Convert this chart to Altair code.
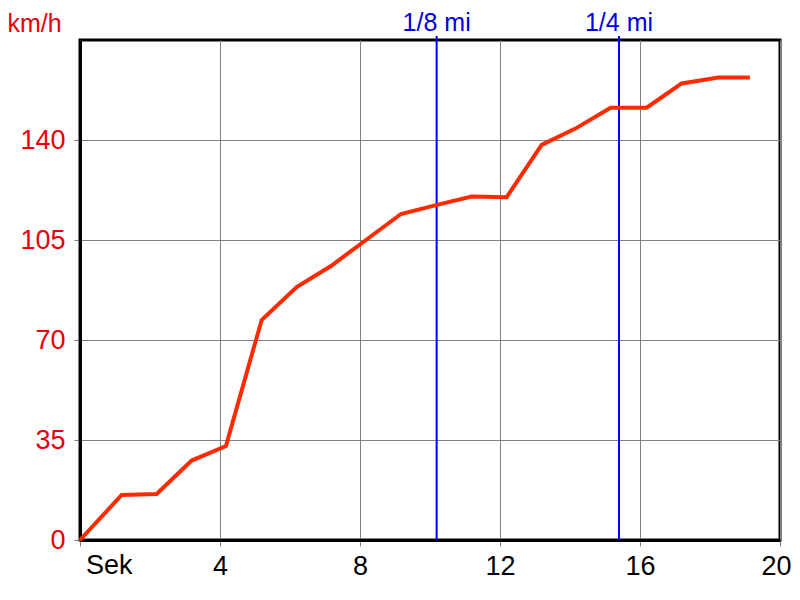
import altair as alt
import pandas as pd

times = [0, 1.19, 2.19, 3.19, 4.17, 5.19, 6.19, 7.17, 8.17, 9.17, 10.2, 11.19,
         12.19, 13.19, 14.14, 15.16, 16.19, 17.19, 18.24, 19.14]
speeds = [0, 15.75, 16.1, 27.8, 32.9, 77, 88.5, 95.9, 105, 114.1, 117.3, 120.2,
          120, 138.3, 143.9, 151.3, 151.3, 159.8, 161.9, 161.9]

marker_times = [10.19, 15.4]
marker_labels = ["1/8 mi", "1/4 mi"]

x_ticks = [0, 4, 8, 12, 16, 20]
y_ticks = [0, 35, 70, 105, 140]

df = pd.DataFrame({"t": times, "v": speeds})
mk = pd.DataFrame({"t": marker_times, "label": marker_labels})
sek = pd.DataFrame({"t": [0], "label": ["Sek"]})

FONT = "Liberation Sans"
FS = 27
TFS = 25

xscale = alt.Scale(domain=[0, 20], nice=False, zero=False)
yscale = alt.Scale(domain=[0, 175], nice=False)

xaxis = alt.Axis(values=x_ticks, grid=True, gridColor="#808080", gridWidth=1,
                 tickColor="#808080", tickSize=6, tickWidth=1,
                 domainColor="black", domainWidth=3,
                 labelFont=FONT, labelFontSize=FS, labelColor="black",
                 labelBaseline="alphabetic", labelPadding=28,
                 labelExpr="datum.value == 0 ? '' : datum.label",
                 labelOffset={"condition": {"test": "datum.value == 20", "value": -4}, "value": 0},
                 labelFlush=False, labelOverlap=False, title=None)
yaxis = alt.Axis(values=y_ticks, grid=True, gridColor="#808080", gridWidth=1,
                 tickColor="#808080", tickSize=6, tickWidth=1,
                 domainColor="black", domainWidth=3,
                 labelFont=FONT, labelFontSize=FS, labelColor="#e8000b",
                 labelBaseline="middle", labelAlign="right", labelPadding=9,
                 labelFlush=False,
                 title="km/h", titleAngle=0, titleFont=FONT, titleFontSize=TFS,
                 titleFontWeight="normal", titleColor="#e8000b",
                 titleAlign="left", titleBaseline="alphabetic",
                 titleX=-73, titleY=-9)

line = alt.Chart(df).mark_line(color="#ff2a00", strokeWidth=4, clip=False).encode(
    x=alt.X("t:Q", scale=xscale, axis=xaxis),
    y=alt.Y("v:Q", scale=yscale, axis=yaxis),
)

rules = alt.Chart(mk).mark_rule(color="#0000ff", strokeWidth=2).encode(
    x=alt.X("t:Q", scale=xscale),
    y=alt.value(-4),
    y2=alt.value(500),
)

mtext = alt.Chart(mk).mark_text(font=FONT, fontSize=TFS, color="#0000dd",
                                align="center", baseline="alphabetic").encode(
    x=alt.X("t:Q", scale=xscale),
    y=alt.value(-9),
    text="label:N",
)

sektext = alt.Chart(sek).mark_text(font=FONT, fontSize=FS, color="black",
                                   align="left", baseline="alphabetic", dx=6).encode(
    x=alt.X("t:Q", scale=xscale),
    y=alt.value(534),
    text="label:N",
)

chart = alt.layer(rules, line, mtext, sektext).properties(
    width=700, height=500,
    autosize=alt.AutoSizeParams(type="none"),
    padding={"left": 72, "top": 32, "right": 12, "bottom": 52},
).configure(
    background="white",
    view=alt.ViewConfig(stroke="black", strokeWidth=3),
)

chart.save("out.html", embed_options={"renderer": "svg", "actions": False})
